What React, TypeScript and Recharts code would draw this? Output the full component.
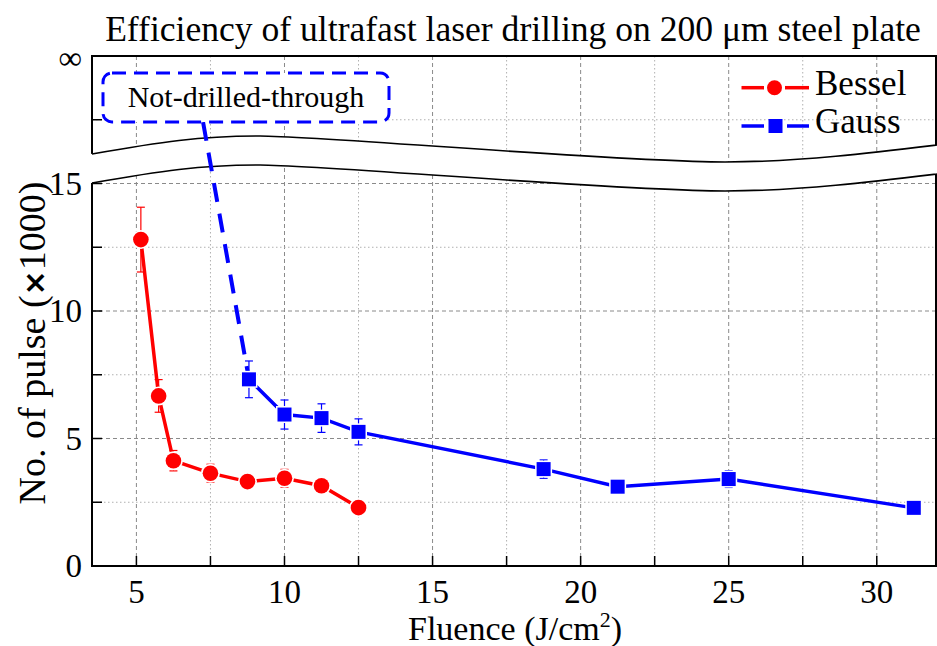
import React from 'react';
import { LineChart, Line, XAxis, YAxis, ErrorBar, ReferenceArea } from 'recharts';

const FONT = '"Liberation Serif", "Times New Roman", serif';

// ---- axis ticks ----
const xTicks = [5, 7.5, 10, 12.5, 15, 17.5, 20, 22.5, 25, 27.5, 30];
const xTickLabels: Record<string, string> = { '5': '5', '10': '10', '15': '15', '20': '20', '25': '25', '30': '30' };
const xMajorGrid = [5, 10, 15, 20, 25, 30];
const xMinorGrid = [7.5, 12.5, 17.5, 22.5, 27.5];
const yTicks = [0, 2.5, 5, 7.5, 10, 12.5, 15, 17.5, 20];
const yTickLabels: Record<string, string> = { '0': '0', '5': '5', '10': '10', '15': '15', '20': '∞' };
const yMajorGrid = [5, 10, 15];
const yMinorGrid = [2.5, 7.5, 12.5, 17.5];
const xDomain: [number, number] = [3.5, 32];
const yDomain: [number, number] = [0, 20];

// ---- data ----
const besselFluence = [5.15, 5.75, 6.25, 7.5, 8.75, 10, 11.25, 12.5];
const besselPulses = [12.8, 6.67, 4.13, 3.64, 3.31, 3.44, 3.15, 2.29];
const besselError = [1.27, 0.64, 0.4, 0.35, 0.2, 0.35, 0.2, 0.1];

const gaussFluence = [8.8, 10, 11.25, 12.5, 18.75, 21.25, 25, 31.25];
const gaussPulses = [7.32, 5.94, 5.8, 5.26, 3.8, 3.11, 3.41, 2.28];
const gaussError = [0.72, 0.57, 0.56, 0.51, 0.36, 0.2, 0.33, 0.1];

// not-drilled-through branch (from the annotation box down to the first drilled point)
const gaussNotDrilledFluence = [7.25, 8.8];
const gaussNotDrilledPulses = [17.41, 7.32];

const besselData = besselFluence.map((x, i) => ({ x, y: besselPulses[i], err: besselError[i] }));
const gaussData = gaussFluence.map((x, i) => ({ x, y: gaussPulses[i], err: gaussError[i] }));
const gaussDashData = gaussNotDrilledFluence.map((x, i) => ({ x, y: gaussNotDrilledPulses[i] }));

const RED = '#ff0000';
const BLUE = '#0000ff';

const BottomTick = (p: any) => {
  const { x, y, payload } = p;
  const lab = xTickLabels[String(payload.value)];
  return (
    <g>
      <line x1={x} x2={x} y1={y} y2={y - 10} stroke="#000" strokeWidth={1.5} />
      {lab ? (
        <text x={x} y={y + 37} textAnchor="middle" fontSize={33} fontFamily={FONT} fill="#000">
          {lab}
        </text>
      ) : null}
    </g>
  );
};
const TopTick = (p: any) => {
  const { x, y } = p;
  return <line x1={x} x2={x} y1={y} y2={y + 10} stroke="#000" strokeWidth={1.5} />;
};
const LeftTick = (p: any) => {
  const { x, y, payload } = p;
  const lab = yTickLabels[String(payload.value)];
  const isInf = payload.value === 20;
  return (
    <g>
      <line x1={x} x2={x + 10} y1={y} y2={y} stroke="#000" strokeWidth={1.5} />
      {lab ? (
        <text x={x - 10} y={y + (isInf ? 13 : 11)} textAnchor="end" fontSize={33} fontFamily={FONT} fill="#000">
          {lab}
        </text>
      ) : null}
    </g>
  );
};
const RightTick = (p: any) => {
  const { x, y } = p;
  return <line x1={x} x2={x - 10} y1={y} y2={y} stroke="#000" strokeWidth={1.5} />;
};

const BesselDot = (p: any) => (
  <g key={`bd${p.index}`}>
    <circle cx={p.cx} cy={p.cy} r={9.5} fill="#fff" />
    <circle cx={p.cx} cy={p.cy} r={7.8} fill={RED} />
  </g>
);
const GaussDot = (p: any) => (
  <g key={`gd${p.index}`}>
    <rect x={p.cx - 8.5} y={p.cy - 8.5} width={17} height={17} fill="#fff" />
    <rect x={p.cx - 7} y={p.cy - 7} width={14} height={14} fill={BLUE} />
  </g>
);

// Background: grid, frame and axis break, mapped from the plot rect
const Background = (p: any) => {
  const { x, y, width, height } = p;
  const sx = (v: number) => x + ((v - xDomain[0]) / (xDomain[1] - xDomain[0])) * width;
  const sy = (v: number) => y + height - ((v - yDomain[0]) / (yDomain[1] - yDomain[0])) * height;
  // reference geometry (plot rect 92..936 x 56..566)
  const X = (px: number) => x + ((px - 92) / 844) * width;
  const Y = (py: number) => y + ((py - 56) / 510) * height;
  const wave = (off: number) =>
    `M ${X(92)} ${Y(154 + off)} C ${X(160)} ${Y(142 + off)} ${X(200)} ${Y(136 + off)} ${X(260)} ${Y(136 + off)} ` +
    `C ${X(320)} ${Y(136 + off)} ${X(620)} ${Y(162 + off)} ${X(725)} ${Y(162 + off)} ` +
    `C ${X(800)} ${Y(162 + off)} ${X(880)} ${Y(152 + off)} ${X(937)} ${Y(145 + off)}`;
  const mid = wave(14.5);
  const bandPath = `M ${X(86)} ${Y(168.5)} L ${X(92)} ${Y(168.5)} ` + mid.slice(mid.indexOf('C')) + ` L ${X(942)} ${Y(159.5)}`;
  return (
    <g>
      {xMinorGrid.map((v) => (
        <line key={`xm${v}`} x1={sx(v)} x2={sx(v)} y1={y} y2={y + height} stroke="#b0b0b0" strokeWidth={1} strokeDasharray="1.5 2.5" />
      ))}
      {xMajorGrid.map((v) => (
        <line key={`xM${v}`} x1={sx(v)} x2={sx(v)} y1={y} y2={y + height} stroke="#8a8a8a" strokeWidth={1} strokeDasharray="4 3" />
      ))}
      {yMinorGrid.map((v) => (
        <line key={`ym${v}`} x1={x} x2={x + width} y1={sy(v)} y2={sy(v)} stroke="#b0b0b0" strokeWidth={1} strokeDasharray="1.5 2.5" />
      ))}
      {yMajorGrid.map((v) => (
        <line key={`yM${v}`} x1={x} x2={x + width} y1={sy(v)} y2={sy(v)} stroke="#8a8a8a" strokeWidth={1} strokeDasharray="4 3" />
      ))}
      <rect x={x} y={y} width={width} height={height} fill="none" stroke="#000" strokeWidth={2} />
      <path d={bandPath} fill="none" stroke="#fff" strokeWidth={Y(185) - Y(156)} />
      <path d={wave(0)} fill="none" stroke="#000" strokeWidth={1.6} />
      <path d={wave(29)} fill="none" stroke="#000" strokeWidth={1.6} />
    </g>
  );
};

export default function App() {
  return (
    <div style={{ position: 'absolute', left: 0, top: 0, width: 937, height: 646, background: '#fff' }}>
      <LineChart width={937} height={646} margin={{ top: 56, right: 1, bottom: 0, left: 0 }}>
        <XAxis
          xAxisId={0}
          type="number"
          dataKey="x"
          domain={xDomain}
          ticks={xTicks}
          interval={0}
          allowDataOverflow
          height={80}
          axisLine={false}
          tickLine={false}
          tickSize={0}
          tickMargin={0}
          tick={BottomTick}
        />
        <XAxis
          xAxisId="top"
          orientation="top"
          type="number"
          dataKey="x"
          domain={xDomain}
          ticks={xTicks}
          interval={0}
          allowDataOverflow
          height={0}
          axisLine={false}
          tickLine={false}
          tickSize={0}
          tickMargin={0}
          tick={TopTick}
        />
        <YAxis
          yAxisId={0}
          type="number"
          domain={yDomain}
          ticks={yTicks}
          interval={0}
          allowDataOverflow
          width={92}
          axisLine={false}
          tickLine={false}
          tickSize={0}
          tickMargin={0}
          tick={LeftTick}
        />
        <YAxis
          yAxisId="right"
          orientation="right"
          type="number"
          domain={yDomain}
          ticks={yTicks}
          interval={0}
          allowDataOverflow
          width={0}
          axisLine={false}
          tickLine={false}
          tickSize={0}
          tickMargin={0}
          tick={RightTick}
        />
        <ReferenceArea
          xAxisId={0}
          yAxisId={0}
          x1={xDomain[0]}
          x2={xDomain[1]}
          y1={yDomain[0]}
          y2={yDomain[1]}
          ifOverflow="visible"
          shape={Background}
        />
        <Line
          data={gaussDashData}
          dataKey="y"
          xAxisId={0}
          yAxisId={0}
          type="linear"
          stroke={BLUE}
          strokeWidth={4}
          strokeDasharray="19 12"
          dot={false}
          activeDot={false}
          isAnimationActive={false}
        />
        <Line
          data={gaussData}
          dataKey="y"
          xAxisId={0}
          yAxisId={0}
          type="linear"
          stroke={BLUE}
          strokeWidth={3.5}
          dot={GaussDot}
          activeDot={false}
          isAnimationActive={false}
        >
          <ErrorBar dataKey="err" width={4} stroke={BLUE} strokeWidth={1.2} direction="y" />
        </Line>
        <Line
          data={besselData}
          dataKey="y"
          xAxisId={0}
          yAxisId={0}
          type="linear"
          stroke={RED}
          strokeWidth={3.5}
          dot={BesselDot}
          activeDot={false}
          isAnimationActive={false}
        >
          <ErrorBar dataKey="err" width={4} stroke={RED} strokeWidth={1.2} direction="y" />
        </Line>
      </LineChart>
      <svg
        width={937}
        height={646}
        style={{ position: 'absolute', left: 0, top: 0, pointerEvents: 'none' }}
        fontFamily={FONT}
      >
        <text x={513} y={41} textAnchor="middle" fontSize={35.6} fill="#000">
          Efficiency of ultrafast laser drilling on 200 μm steel plate
        </text>
        <text x={515} y={640} textAnchor="middle" fontSize={34} fill="#000">
          Fluence (J/cm<tspan dy={-13} fontSize={22}>2</tspan>
          <tspan dy={13}>)</tspan>
        </text>
        <text x={45} y={343} textAnchor="middle" fontSize={38} fill="#000" transform="rotate(-90 45 343)">
          No. of pulse (<tspan fontWeight="bold" fontFamily="DejaVu Sans" fontSize={30}>×</tspan>1000)
        </text>
        {/* annotation */}
        <rect x={103} y={73} width={286} height={49} rx={9} fill="#fff" stroke={BLUE} strokeWidth={3} strokeDasharray="14 8" />
        <text x={246} y={107} textAnchor="middle" fontSize={30} fill="#000">
          Not-drilled-through
        </text>
        {/* legend */}
        <line x1={741.5} x2={764} y1={87.7} y2={87.7} stroke={RED} strokeWidth={3.5} />
        <line x1={785} x2={809} y1={87.7} y2={87.7} stroke={RED} strokeWidth={3.5} />
        <circle cx={774.5} cy={87.7} r={7.5} fill={RED} />
        <text x={815} y={94.5} fontSize={35} fill="#000">Bessel</text>
        <line x1={741.5} x2={764} y1={126} y2={126} stroke={BLUE} strokeWidth={3.5} />
        <line x1={787} x2={809} y1={126} y2={126} stroke={BLUE} strokeWidth={3.5} />
        <rect x={768.5} y={119} width={14} height={14} fill={BLUE} />
        <text x={815} y={133} fontSize={35} fill="#000">Gauss</text>
      </svg>
    </div>
  );
}
